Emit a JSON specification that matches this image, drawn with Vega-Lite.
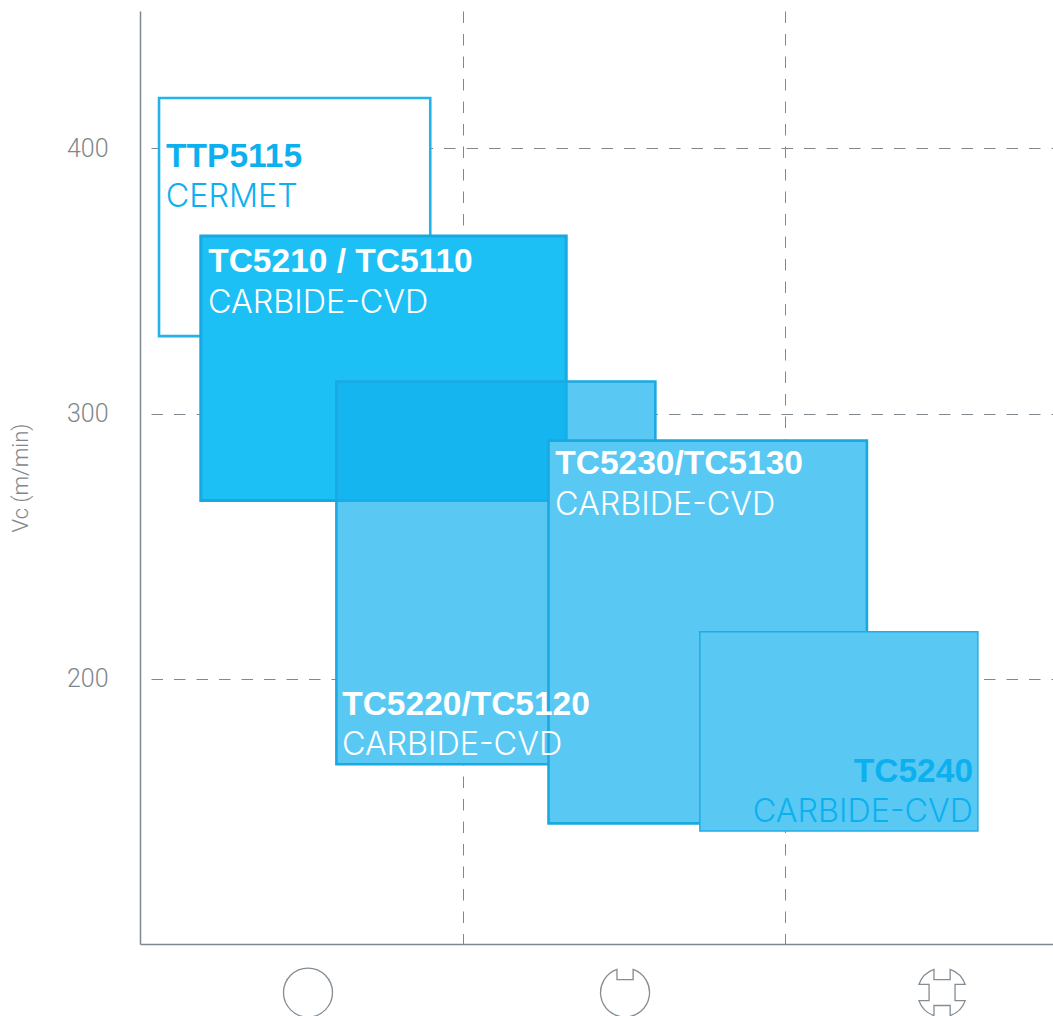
{"$schema":"https://vega.github.io/schema/vega-lite/v6.json","width":913,"height":933,"autosize":{"type":"none"},"padding":{"left":140,"top":11,"right":0,"bottom":72},"background":"white","config":{"view":{"stroke":null}},
"datasets":{
"boxes":[
{"name":"TTP5115","x0":0.059,"x1":0.9,"top":419.0,"bottom":329.2},
{"name":"TC5210 / TC5110","x0":0.1885,"x1":1.3216,"top":367.0,"bottom":267.2},
{"name":"TC5220/TC5120","x0":0.609,"x1":1.598,"top":312.1,"bottom":167.8},
{"name":"TC5230/TC5130","x0":1.2667,"x1":2.254,"top":289.8,"bottom":145.5},
{"name":"TC5240","x0":1.736,"x1":2.598,"top":217.7,"bottom":142.6}],
"titles":[
{"t":"TTP5115","x":0.081,"y":393.1,"c":"blue"},
{"t":"TC5210 / TC5110","x":0.2115,"y":353.2,"c":"white"},
{"t":"TC5230/TC5130","x":1.2875,"y":277.4,"c":"white"},
{"t":"TC5220/TC5120","x":0.627,"y":186.5,"c":"white"}],
"subs":[
{"t":"CERMET","x":0.08,"y":377.9,"c":"blue"},
{"t":"CARBIDE-CVD","x":0.211,"y":337.9,"c":"white"},
{"t":"CARBIDE-CVD","x":1.287,"y":261.7,"c":"white"},
{"t":"CARBIDE-CVD","x":0.626,"y":171.2,"c":"white"}],
"icons":[
{"kind":"round","x":0.5209,"y":81.7},
{"kind":"one","x":1.504,"y":81.7},
{"kind":"four","x":2.487,"y":81.7}]
},
"layer":[
{"data":{"name":"boxes"},"mark":{"type":"rect","fill":"white","strokeWidth":0},
"encoding":{"x":{"field":"x0","type":"quantitative","scale":{"domain":[0,2.831],"nice":false,"zero":false},
"axis":{"values":[1,2],"title":null,"labels":false,"ticks":false,"grid":true,"gridColor":"#7f888e","gridWidth":1,"gridDash":[11.5,11],"domainColor":"#7b8791","domainWidth":1.5}},
"x2":{"field":"x1"},
"y":{"field":"top","type":"quantitative","scale":{"domain":[100,451.8],"nice":false,"zero":false},
"axis":{"values":[200,300,400],"title":"Vc (m/min)","titleFont":"Roboto","titleFontWeight":300,"titleFontSize":22,"titleColor":"#7f878c","titlePadding":34,"labelFont":"Roboto","labelFontWeight":300,"labelFontSize":25,"labelColor":"#7f878c","labelPadding":32,"ticks":false,"grid":true,"gridColor":"#7f888e","gridWidth":1,"gridDash":[11.5,11],"gridDashOffset":11.5,"domainColor":"#7b8791","domainWidth":1.5}},
"y2":{"field":"bottom"}}},
{"data":{"name":"boxes"},"mark":{"type":"rect"},
"encoding":{"x":{"field":"x0","type":"quantitative"},"x2":{"field":"x1"},"y":{"field":"top","type":"quantitative"},"y2":{"field":"bottom"},
"fill":{"field":"name","type":"nominal","legend":null,"scale":{"domain":["TTP5115","TC5210 / TC5110","TC5220/TC5120","TC5230/TC5130","TC5240"],"range":["#ffffff","#1cc0f5","#12b2ee","#59c9f3","#59c9f3"]}},
"fillOpacity":{"condition":[{"test":"datum.name==='TC5220/TC5120'","value":0.7},{"test":"datum.name==='TTP5115'","value":0}],"value":1},
"stroke":{"field":"name","type":"nominal","legend":null,"scale":{"domain":["TTP5115","TC5210 / TC5110","TC5220/TC5120","TC5230/TC5130","TC5240"],"range":["#22b4e8","#19a9e1","#1aa9e2","#19a9e1","#22ace6"]}},
"strokeWidth":{"condition":[{"test":"datum.name==='TC5240'","value":1.5},{"test":"datum.name==='TC5210 / TC5110'","value":3}],"value":2.6}}},
{"data":{"name":"titles"},"mark":{"type":"text","font":"Liberation Sans","fontWeight":"bold","fontSize":33.5,"align":"left","baseline":"alphabetic"},
"encoding":{"x":{"field":"x","type":"quantitative"},"y":{"field":"y","type":"quantitative"},"text":{"field":"t"},
"color":{"field":"c","type":"nominal","legend":null,"scale":{"domain":["blue","white"],"range":["#0db0ef","#ffffff"]}}}},
{"data":{"name":"subs"},"mark":{"type":"text","font":"Inter","fontWeight":300,"fontSize":32.3,"align":"left","baseline":"alphabetic"},
"encoding":{"x":{"field":"x","type":"quantitative"},"y":{"field":"y","type":"quantitative"},"text":{"field":"t"},
"color":{"field":"c","type":"nominal","legend":null,"scale":{"domain":["blue","white"],"range":["#0db0ef","#ffffff"]}}}},
{"data":{"values":[{"t":"TC5240","x":2.583,"y":161.2}]},"mark":{"type":"text","font":"Liberation Sans","fontWeight":"bold","fontSize":33.5,"align":"right","baseline":"alphabetic","color":"#0db0ef"},
"encoding":{"x":{"field":"x","type":"quantitative"},"y":{"field":"y","type":"quantitative"},"text":{"field":"t"}}},
{"data":{"values":[{"t":"CARBIDE-CVD","x":2.583,"y":146.0}]},"mark":{"type":"text","font":"Inter","fontWeight":300,"fontSize":32.3,"align":"right","baseline":"alphabetic","color":"#0db0ef"},
"encoding":{"x":{"field":"x","type":"quantitative"},"y":{"field":"y","type":"quantitative"},"text":{"field":"t"}}},
{"data":{"name":"icons"},"mark":{"type":"point","filled":false,"stroke":"#848d93","strokeWidth":1.3,"size":2401,"opacity":1,"clip":false},
"encoding":{"x":{"field":"x","type":"quantitative"},"y":{"field":"y","type":"quantitative"},
"shape":{"field":"kind","type":"nominal","legend":null,"scale":{"domain":["round","one","four"],"range":["M-1,0A1,1 0 1,1 1,0A1,1 0 1,1 -1,0Z","M-0.33,-0.944L-0.33,-0.53L0.33,-0.53L0.33,-0.944A1,1 0 1,1 -0.33,-0.944Z","M-0.33,-0.944L-0.33,-0.53L0.33,-0.53L0.33,-0.944A1,1 0 0,1 0.944,-0.33L0.53,-0.33L0.53,0.33L0.944,0.33A1,1 0 0,1 0.33,0.944L0.33,0.53L-0.33,0.53L-0.33,0.944A1,1 0 0,1 -0.944,0.33L-0.53,0.33L-0.53,-0.33L-0.944,-0.33A1,1 0 0,1 -0.33,-0.944Z"]}}}}
]}
